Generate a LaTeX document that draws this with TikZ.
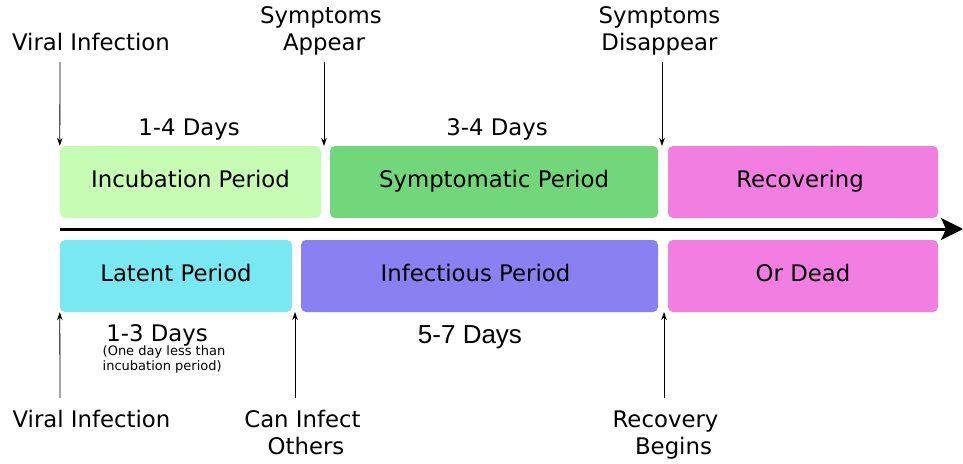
\documentclass[tikz,border=0pt]{standalone}
\usepackage{fontspec}
\setmainfont{DejaVu Sans}
\newfontfamily\arialfont{Liberation Sans}
\usetikzlibrary{arrows.meta}
\definecolor{incub}{HTML}{C6FCB4}
\definecolor{sympt}{HTML}{72D67A}
\definecolor{recov}{HTML}{F27EE2}
\definecolor{latent}{HTML}{7AE8F2}
\definecolor{infect}{HTML}{8A80F2}
\begin{document}
\begin{tikzpicture}[x=1pt,y=-1pt,
  lbl/.style={font=\fontsize{22.8}{27}\selectfont, inner sep=0pt, align=center, anchor=base},
  period/.style={rounded corners=5pt, minimum height=72pt, inner sep=0pt,
    text height=16pt, text depth=6pt, font=\fontsize{22.8}{27}\selectfont},
  marker/.style={-{Stealth[length=8pt,width=5.5pt]}, line width=0.8pt},
]
\useasboundingbox (0,0) rectangle (963,463);
% periods
\node[period, fill=incub,  minimum width=261pt] (incub)  at (190.5,182) {Incubation Period};
\node[period, fill=sympt,  minimum width=328pt] (sympt)  at (494,182)   {Symptomatic Period};
\node[period, fill=recov,  minimum width=270pt] (recov)  at (803,182)   {Recovering\hspace*{6pt}};
\node[period, fill=latent, minimum width=232pt] (latent) at (176,276)   {Latent Period};
\node[period, fill=infect, minimum width=357pt] (infect) at (479.5,276) {Infectious Period\hspace*{8pt}};
\node[period, fill=recov,  minimum width=270pt] (dead)   at (803,276)   {Or Dead};
% time axis
\coordinate (axs) at (60,229);
\coordinate (axe) at (963,229);
\draw[line width=3pt, -{Stealth[length=22pt,width=22pt,inset=5pt]}] (axs) -- (axe);
% top labels (base = baseline of last line)
\node[lbl] (vi1) at (91,50) {Viral Infection};
\node[lbl] (sa) at (321,50) {Symptoms\\\hspace*{6pt}Appear};
\node[lbl] (sd) at (659.5,50) {Symptoms\\Disappear};
\node[lbl] (d14) at (189,135) {1-4 Days};
\node[lbl] (d34) at (497,135) {3-4 Days};
% bottom labels
\node[lbl] (vi2) at (91.5,427) {Viral Infection};
\node[lbl] (cio) at (302.5,454) {Can Infect\\\hspace*{7pt}Others};
\node[lbl] (rb) at (665.5,454) {Recovery\\\hspace*{16pt}Begins};
\node[lbl] (d13) at (157,341) {1-3 Days};
\node[font=\fontsize{13}{15}\selectfont, align=left, anchor=base west, inner sep=0pt] (note) at (102.5,370) {(One day less than\\incubation period)};
\node[font=\arialfont\fontsize{26}{30}\selectfont, anchor=base, inner sep=0pt] (d57) at (470,343) {5-7 Days};
% event markers
\coordinate (t1) at (60,62);
\coordinate (t2) at (324,62);
\coordinate (t2e) at (324,146);
\coordinate (t3) at (662,62);
\coordinate (t3e) at (662,146);
\draw[marker] (t1) -- (incub.north west);
\draw[marker] (t2) -- (t2e);
\draw[marker] (t3) -- (t3e);
\coordinate (b1) at (60,398);
\coordinate (b2) at (295,398);
\coordinate (b2e) at (295,312);
\coordinate (b3) at (664,398);
\coordinate (b3e) at (664,312);
\draw[marker] (b1) -- (latent.south west);
\draw[marker] (b2) -- (b2e);
\draw[marker] (b3) -- (b3e);
\end{tikzpicture}
\end{document}
